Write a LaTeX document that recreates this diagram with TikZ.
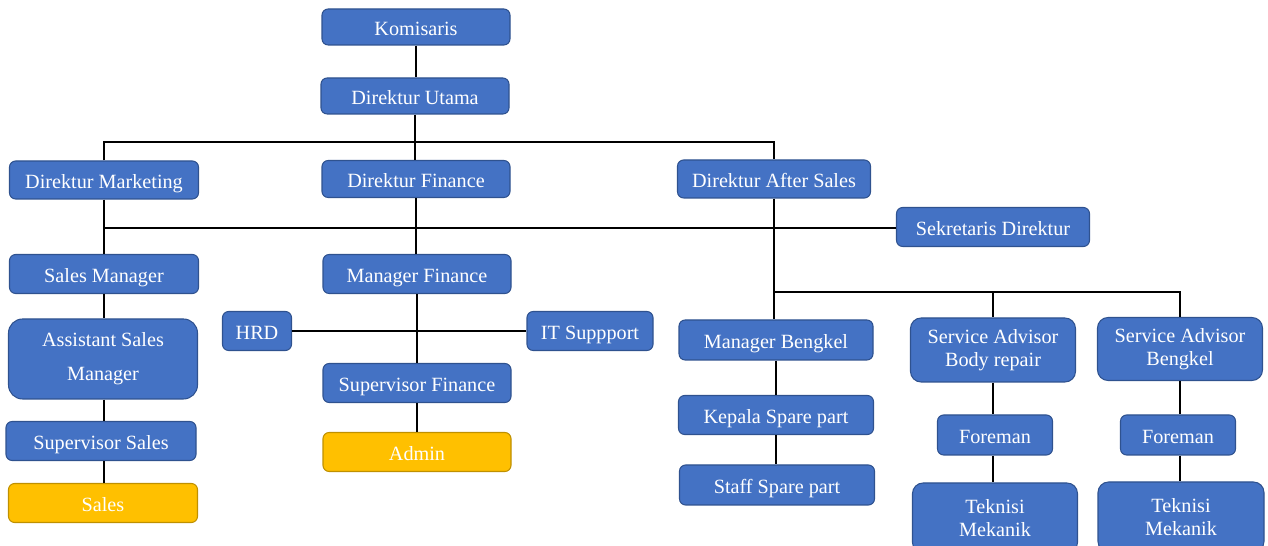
\documentclass[tikz,border=0pt]{standalone}
\usepackage{fontspec}
\setmainfont{Liberation Serif}
\definecolor{boxblue}{RGB}{68, 114, 196}
\definecolor{boxedge}{RGB}{47, 82, 143}
\definecolor{boxgold}{RGB}{255, 192, 0}
\definecolor{goldedge}{RGB}{191, 144, 0}
\tikzstyle{jabatan} = [
  draw=boxedge,
  fill=boxblue,
  text=white,
  line width=0.6pt,
  rounded corners=3.5pt,
  inner sep=0pt,
  align=center,
  text height=10pt,
  text depth=0pt,
  font=\fontsize{11.5}{13}\selectfont,
]
\tikzstyle{duabaris} = [text height={}, text depth={}, rounded corners=6pt]
\tikzstyle{staf} = [jabatan, draw=goldedge, fill=boxgold]
\tikzstyle{garis} = [line width=0.8pt, black]
\tikzset{kotak/.style 2 args={minimum width=#1*0.02cm, minimum height=#2*0.02cm}}

\begin{document}
\begin{tikzpicture}[x=0.02cm, y=-0.02cm]
            \useasboundingbox (0,0) rectangle (1268,546);

            % Top
            \node[jabatan, kotak={188}{36}] (komisaris) at (416,27) {Komisaris};
            \node[jabatan, kotak={188}{36}] (utama) at (415,96) {Direktur Utama};

            % Directors
            \node[jabatan, kotak={189}{38}] (marketing) at (104,180) {Direktur Marketing};
            \node[jabatan, kotak={188}{37}] (finance) at (416,179) {Direktur Finance};
            \node[jabatan, kotak={193}{38}] (aftersales) at (774,179) {Direktur After Sales};
            \node[jabatan, kotak={193}{39}] (sekretaris) at (993,227) {Sekretaris Direktur};

            % Marketing
            \node[jabatan, kotak={189}{39}] (salesmgr) at (104,274) {Sales Manager};
            \node[jabatan, duabaris, kotak={189}{80}, rounded corners=8pt,
                  font=\fontsize{11.5}{19.5}\selectfont] (asisten) at (103,359) {Assistant Sales\\Manager};
            \node[jabatan, kotak={190}{39}] (spvsales) at (101,441) {Supervisor Sales};
            \node[staf, kotak={189}{39}] (sales) at (103,503) {Sales};

            % Finance
            \node[jabatan, kotak={188}{39}] (mgrfinance) at (417,274) {Manager Finance};
            \node[jabatan, kotak={69}{39}] (hrd) at (257,331) {HRD};
            \node[jabatan, kotak={126}{39}] (itsupport) at (590,331) {IT Suppport};
            \node[jabatan, kotak={188}{39}] (spvfinance) at (417,383) {Supervisor Finance};
            \node[staf, kotak={188}{39}] (admin) at (417,452) {Admin};

            % After sales
            \node[jabatan, kotak={194}{40}] (mgrbengkel) at (776,340) {Manager Bengkel};
            \node[jabatan, duabaris, kotak={165}{64}] (sabody) at (993,350) {Service Advisor\\Body repair};
            \node[jabatan, duabaris, kotak={165}{63}] (sabengkel) at (1180,349) {Service Advisor\\Bengkel};
            \node[jabatan, kotak={195}{39}] (kepala) at (776,415) {Kepala Spare part};
            \node[jabatan, kotak={195}{40}] (staff) at (777,485) {Staff Spare part};
            \node[jabatan, kotak={115}{40}] (foreman1) at (995,435) {Foreman};
            \node[jabatan, kotak={115}{40}] (foreman2) at (1178,435) {Foreman};
            \node[jabatan, duabaris, kotak={165}{70}] (teknisi1) at (995,518) {Teknisi\\Mekanik};
            \node[jabatan, duabaris, kotak={166}{70}] (teknisi2) at (1181,517) {Teknisi\\Mekanik};

            % Bars
            \coordinate (bar1) at (415,142);
            \coordinate (bar2) at (104,228);
            \coordinate (bar3) at (774,292);

            % Connectors
            \draw[garis] (komisaris.south) -- (komisaris.south |- utama.north);
            \draw[garis] (utama.south) -- (utama.south |- finance.north);
            \draw[garis] (marketing.north) -- (marketing.north |- bar1) -| (aftersales.north);
            \draw[garis] (marketing.south) -- (marketing.south |- salesmgr.north);
            \draw[garis] (bar2) -- (bar2 -| sekretaris.west);
            \draw[garis] (finance.south) -- (finance.south |- mgrfinance.north);
            \draw[garis] (aftersales.south) -- (aftersales.south |- mgrbengkel.north);
            \draw[garis] (bar3) -| (sabengkel.north);
            \draw[garis] (bar3 -| sabody.north) -- (sabody.north);

            \draw[garis] (salesmgr.south) -- (salesmgr.south |- asisten.north);
            \draw[garis] (salesmgr.south |- asisten.south) -- (salesmgr.south |- spvsales.north);
            \draw[garis] (salesmgr.south |- spvsales.south) -- (salesmgr.south |- sales.north);

            \draw[garis] (mgrfinance.south) -- (mgrfinance.south |- spvfinance.north);
            \draw[garis] (hrd.east) -- (itsupport.west);
            \draw[garis] (spvfinance.south) -- (spvfinance.south |- admin.north);

            \draw[garis] (mgrbengkel.south) -- (mgrbengkel.south |- kepala.north);
            \draw[garis] (mgrbengkel.south |- kepala.south) -- (mgrbengkel.south |- staff.north);
            \draw[garis] (sabody.south) -- (sabody.south |- foreman1.north);
            \draw[garis] (sabody.south |- foreman1.south) -- (sabody.south |- teknisi1.north);
            \draw[garis] (sabengkel.south) -- (sabengkel.south |- foreman2.north);
            \draw[garis] (sabengkel.south |- foreman2.south) -- (sabengkel.south |- teknisi2.north);
          \end{tikzpicture}
\end{document}
